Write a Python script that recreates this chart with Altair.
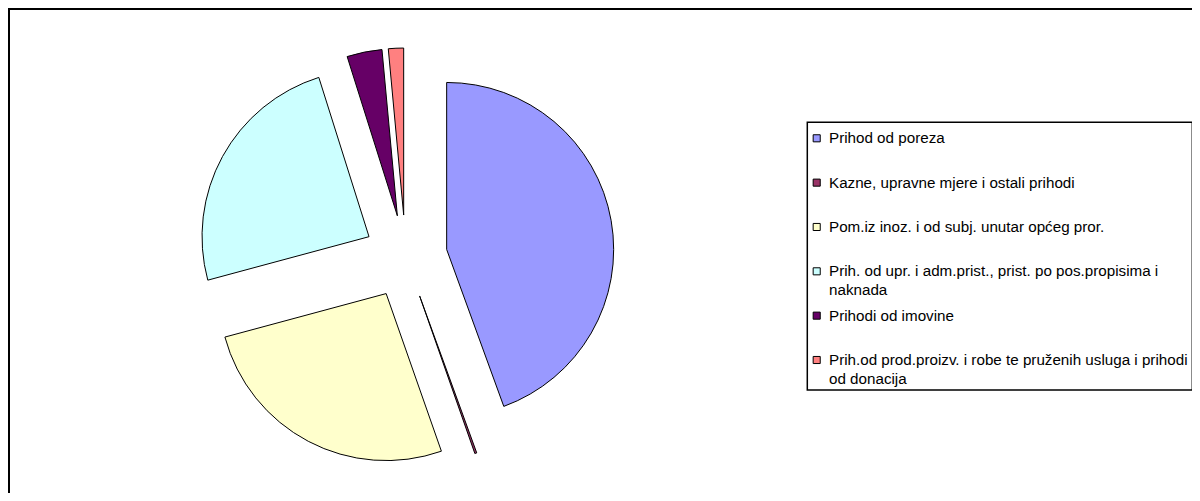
import altair as alt
import pandas as pd

categories = [
    "Prihod od poreza",
    "Kazne, upravne mjere i ostali prihodi",
    "Pom.iz inoz. i od subj. unutar općeg pror.",
    "Prih. od upr. i adm.prist., prist. po pos.propisima i naknada",
    "Prihodi od imovine",
    "Prih.od prod.proizv. i robe te pruženih usluga i prihodi od donacija",
]
legend_labels = [
    "Prihod od poreza",
    "Kazne, upravne mjere i ostali prihodi",
    "Pom.iz inoz. i od subj. unutar općeg pror.",
    "Prih. od upr. i adm.prist., prist. po pos.propisima i\nnaknada",
    "Prihodi od imovine",
    "Prih.od prod.proizv. i robe te pruženih usluga i prihodi\nod donacija",
]
shares = [44.44, 0.19, 26.17, 24.33, 3.39, 1.47]
colors = ["#9999FF", "#993366", "#FFFFCC", "#CCFFFF", "#660066", "#FF8080"]

df = pd.DataFrame({
    "category": categories,
    "label": legend_labels,
    "share": shares,
    "order": list(range(len(categories))),
})

W, H = 1184, 485
CX, CY, R, EXPLODE = 397.6, 248.7, 167, 41.7
FONT = "Liberation Sans"

fill = alt.Fill("category:N", scale=alt.Scale(domain=categories, range=colors), legend=None)

pie = (
    alt.Chart(df)
    .transform_window(cum="sum(share)", sort=[alt.SortField("order")], frame=[None, 0])
    .transform_joinaggregate(total="sum(share)")
    .transform_calculate(
        t1="2*PI*datum.cum/datum.total",
        t0="2*PI*(datum.cum - datum.share)/datum.total",
    )
    .transform_calculate(mid="(datum.t0 + datum.t1)/2")
    .transform_calculate(
        px=f"{CX} + {EXPLODE}*sin(datum.mid)",
        py=f"{CY} - {EXPLODE}*cos(datum.mid)",
    )
    .mark_arc(outerRadius=R, stroke="black", strokeWidth=1)
    .encode(
        theta=alt.Theta("t0:Q", scale=None, stack=None),
        theta2="t1:Q",
        x=alt.X("px:Q", scale=None),
        y=alt.Y("py:Q", scale=None),
        fill=fill,
    )
)

ypos = alt.Y(
    "category:N",
    sort=categories,
    scale=alt.Scale(type="point", domain=categories, range=[130.3, 352], padding=0),
    axis=None,
)

squares = (
    alt.Chart(df)
    .mark_square(size=50, stroke="black", strokeWidth=1, opacity=1)
    .encode(x=alt.value(808.7), y=ypos, fill=fill)
)

texts = (
    alt.Chart(df)
    .mark_text(
        align="left", baseline="alphabetic", dy=5, lineBreak="\n",
        fontSize=15.2, font=FONT, lineHeight=19, color="black",
    )
    .encode(x=alt.value(821), y=ypos, text="label:N")
)

frame_data = alt.Data(values=[{"k": 0}])
legend_box = (
    alt.Chart(frame_data)
    .mark_rect(fill="white", fillOpacity=0, stroke="black", strokeWidth=1.5)
    .encode(x=alt.value(799.3), x2=alt.value(1184.3), y=alt.value(114.3), y2=alt.value(382))
)
top_rule = (
    alt.Chart(frame_data)
    .mark_rule(color="black", strokeWidth=2)
    .encode(x=alt.value(0), x2=alt.value(W), y=alt.value(1))
)
left_rule = (
    alt.Chart(frame_data)
    .mark_rule(color="black", strokeWidth=2)
    .encode(x=alt.value(1), y=alt.value(0), y2=alt.value(H))
)

chart = (
    alt.layer(legend_box, pie, squares, texts, top_rule, left_rule)
    .resolve_scale(x="independent", y="independent")
    .properties(width=W, height=H, padding=0, autosize=alt.AutoSizeParams(type="none"), background="white")
    .configure_view(stroke=None)
)

chart.save("out.html", embed_options={"renderer": "svg", "actions": False})
